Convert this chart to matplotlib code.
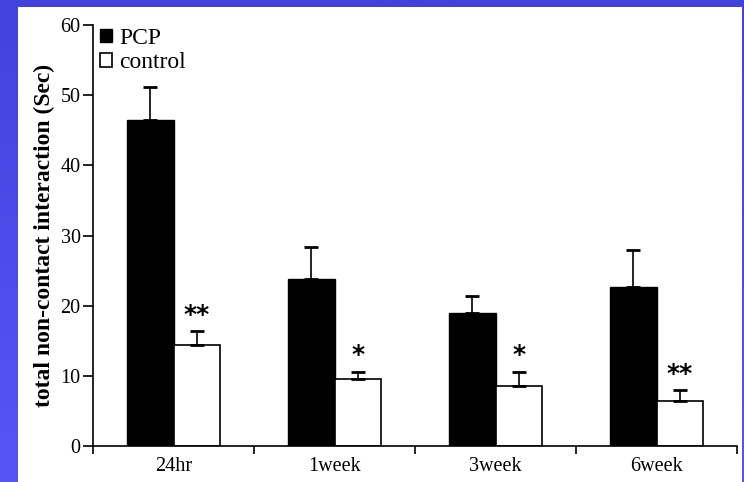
import matplotlib
matplotlib.use("Agg")
import matplotlib.pyplot as plt
import numpy as np
from matplotlib.patches import Rectangle

categories = ["24hr", "1week", "3week", "6week"]
pcp = [46.5, 23.8, 19.0, 22.7]
pcp_err = [4.6, 4.6, 2.4, 5.2]
control = [14.4, 9.6, 8.6, 6.4]
control_err = [2.0, 1.0, 2.0, 1.6]
stars = ["**", "*", "*", "**"]

plt.rcParams['font.family'] = ['Liberation Serif', 'DejaVu Serif']

fig = plt.figure(figsize=(7.44, 4.82), dpi=100)
fig.patch.set_facecolor('#4848e6')

# blue gradient border, white panel
bg = fig.add_axes([0, 0, 1, 1], zorder=-10)
grad = np.linspace(0, 1, 256).reshape(-1, 1)
cmap = matplotlib.colors.LinearSegmentedColormap.from_list('b', ['#4242de', '#5656f6'])
bg.imshow(grad, aspect='auto', cmap=cmap, extent=[0, 1, 0, 1], origin='upper')
bg.add_patch(Rectangle((18 / 744, 0), (742 - 18) / 744, 1 - 7 / 482,
                       facecolor='white', edgecolor='none'))
bg.set_xlim(0, 1)
bg.set_ylim(0, 1)
bg.axis('off')

ax = fig.add_axes([93 / 744, 1 - 446 / 482, (737 - 93) / 744, (446 - 25) / 482])
ax.patch.set_alpha(0)

x = np.arange(len(categories))
w = 0.29
ax.bar(x - w / 2, pcp, w, color='black', edgecolor='black', linewidth=1, label='PCP')
ax.errorbar(x - w / 2, pcp, yerr=[np.zeros(4), pcp_err], fmt='none',
            ecolor='black', elinewidth=1.2, capsize=5, capthick=2)
ax.bar(x + w / 2, control, w, color='white', edgecolor='black', linewidth=1.2, label='control')
ax.errorbar(x + w / 2, control, yerr=[np.zeros(4), control_err], fmt='none',
            ecolor='black', elinewidth=1.2, capsize=5, capthick=2)

for i, s in enumerate(stars):
    ax.text(x[i] + w / 2, control[i] + control_err[i] + 0.6, s, ha='center', va='bottom',
            fontsize=18, fontweight='bold', family='DejaVu Sans')

ax.set_xlim(-0.5, len(categories) - 0.5)
ax.set_ylim(0, 60)
ax.set_yticks(np.arange(0, 61, 10))
ax.set_xticks(x)
ax.set_xticklabels(categories, fontsize=14.5)
ax.set_xticks(np.arange(-0.5, len(categories), 1), minor=True)
ax.tick_params(axis='x', which='major', length=0, pad=8)
ax.tick_params(axis='x', which='minor', length=6, width=1.2, direction='out')
ax.tick_params(axis='y', length=7, width=1.2, direction='out', labelsize=14.5, pad=2)
ax.spines['top'].set_visible(False)
ax.spines['right'].set_visible(False)
ax.spines['left'].set_linewidth(1.2)
ax.spines['bottom'].set_linewidth(1.2)
ax.set_ylabel('total non-contact interaction (Sec)', fontsize=17, fontweight='bold', labelpad=4)

ax.legend(loc='upper left', bbox_to_anchor=(-0.011, 1.027), frameon=False, fontsize=17,
          handlelength=0.5, handleheight=0.5, handletextpad=0.3, labelspacing=0.15,
          borderaxespad=0.2)

fig.savefig('out.png', dpi=100, facecolor=fig.get_facecolor())
